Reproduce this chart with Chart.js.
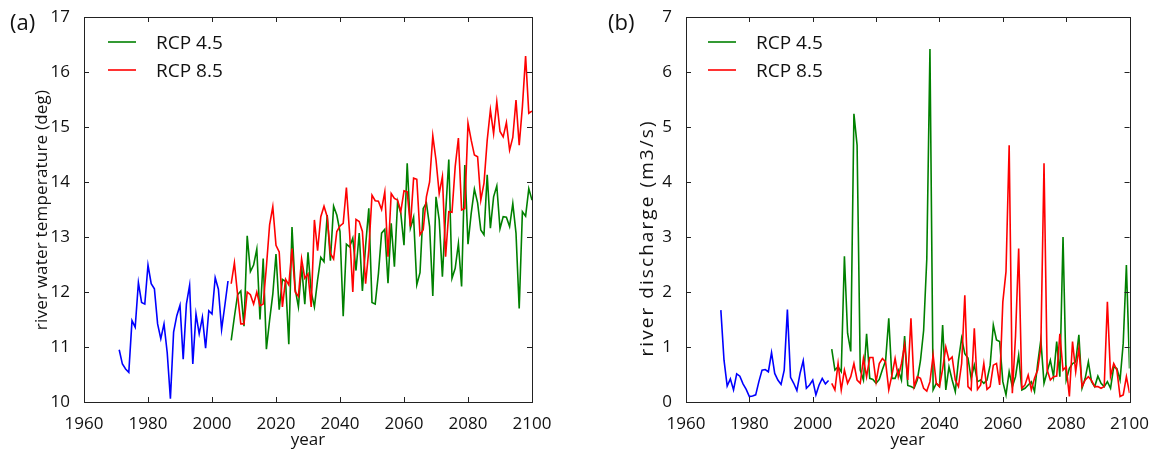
<!DOCTYPE html>
<html>
<head>
<meta charset="utf-8">
<script src="https://cdn.jsdelivr.net/npm/chart.js@4.4.1/dist/chart.umd.min.js"></script>
<style>
  body{margin:0;background:#fff;}
  #wrap{position:relative;width:1153px;height:450px;}
  canvas{position:absolute;top:0;}
  #panelA{left:0;}
  #panelB{left:600px;}
</style>
</head>
<body>
<div id="wrap">
  <canvas id="panelA" width="560" height="450"></canvas>
  <canvas id="panelB" width="553" height="450"></canvas>
</div>
<script>

/* =========================================
   DATA
========================================= */

function yearRange(a,b){
  const out = [];
  for(let y=a; y<=b; y++) out.push(y);
  return out;
}

const histYears = yearRange(1971,2005);
const scenYears = yearRange(2006,2100);

const xTicks = [1960,1980,2000,2020,2040,2060,2080,2100];

// (a) river water temperature (deg)
const tempHist = [
  10.95,10.69,10.60,10.54,11.48,11.36,12.17,11.81,11.78,12.49,
  12.15,12.06,11.42,11.15,11.42,10.90,10.06,11.27,11.57,11.76,
  10.78,11.78,12.12,10.69,11.60,11.24,11.54,10.98,11.66,11.60,
  12.26,12.05,11.32,11.75,12.20
];

const tempRcp45 = [
  11.12,11.55,11.95,12.02,11.38,13.02,12.37,12.49,12.78,11.50,
  12.61,10.96,11.49,11.96,12.69,11.68,12.23,12.19,11.05,13.18,
  12.05,11.73,12.47,11.78,12.72,12.00,11.73,12.22,12.63,12.55,
  13.40,12.57,13.56,13.40,13.10,11.56,12.87,12.82,12.98,12.39,
  13.07,12.02,12.84,13.52,11.81,11.78,12.33,13.07,13.14,12.16,
  13.25,12.46,13.64,13.43,12.85,14.34,13.16,13.36,12.13,12.35,
  13.52,13.62,13.19,11.93,13.73,13.31,12.28,13.43,14.41,12.25,
  12.43,12.88,12.10,14.31,12.87,13.43,13.87,13.62,13.13,13.04,
  14.13,13.16,13.73,13.93,13.15,13.37,13.36,13.19,13.61,13.07,
  11.70,13.46,13.38,13.88,13.67
];

const tempRcp85 = [
  12.15,12.53,11.95,11.42,11.42,12.00,11.95,11.78,12.00,11.75,
  11.78,12.46,13.22,13.55,12.85,12.73,11.73,12.23,12.13,12.79,
  12.00,11.92,12.60,12.25,12.33,11.73,13.31,12.75,13.37,13.56,
  13.37,12.70,12.60,13.10,13.20,13.25,13.90,13.07,12.00,13.32,
  13.28,13.10,12.15,12.76,13.76,13.66,13.65,13.50,13.82,12.64,
  13.79,13.70,13.67,13.46,13.84,13.82,13.19,14.07,14.05,13.04,
  13.13,13.73,14.00,14.84,14.40,13.79,14.10,12.64,13.46,13.45,
  14.28,14.80,13.49,13.52,15.07,14.76,14.49,14.46,13.67,13.98,
  14.76,15.31,14.88,15.46,14.92,14.82,15.08,14.58,14.81,15.49,
  14.67,15.37,16.29,15.25,15.29
];

// (b) river discharge (m3/s)
const flowHist = [
  1.67,0.76,0.29,0.42,0.22,0.51,0.47,0.33,0.23,0.10,
  0.11,0.13,0.37,0.58,0.59,0.55,0.90,0.52,0.40,0.32,
  0.58,1.68,0.45,0.34,0.21,0.52,0.75,0.25,0.31,0.40,
  0.13,0.31,0.43,0.33,0.39
];

const flowRcp45 = [
  0.96,0.58,0.64,0.55,2.65,1.25,0.92,5.24,4.67,0.58,
  0.40,1.24,0.43,0.41,0.34,0.41,0.59,0.75,1.52,0.43,
  0.43,0.58,0.40,1.20,0.30,0.28,0.25,0.40,0.75,1.30,
  2.60,6.42,0.22,0.34,0.28,1.40,0.22,0.64,0.40,0.19,
  0.76,1.16,0.88,0.80,0.43,0.67,0.37,0.40,0.34,0.40,
  0.67,1.40,1.13,1.10,0.37,0.13,0.55,0.28,0.46,0.85,
  0.22,0.25,0.31,0.37,0.19,0.70,1.13,0.34,0.55,0.76,
  0.46,1.10,0.46,3.00,0.40,0.61,0.70,0.73,1.22,0.25,
  0.43,0.73,0.37,0.28,0.47,0.34,0.28,0.37,0.25,0.64,
  0.61,0.40,1.07,2.49,0.61
];

const flowRcp85 = [
  0.34,0.22,0.70,0.22,0.58,0.34,0.46,0.70,0.40,0.34,
  0.79,0.46,0.81,0.81,0.37,0.70,0.79,0.73,0.22,0.49,
  0.79,0.46,0.70,1.04,0.40,1.52,0.28,0.46,0.43,0.25,
  0.20,0.37,0.85,0.34,0.28,0.60,1.00,0.76,0.82,0.40,
  0.28,0.70,1.94,0.28,0.22,1.34,0.23,0.31,0.70,0.23,
  0.28,0.67,0.70,0.31,1.82,2.37,4.67,0.16,1.19,2.79,
  0.25,0.31,0.49,0.22,0.43,0.58,1.00,4.34,0.58,0.40,
  0.46,0.47,1.24,0.58,0.64,0.10,1.10,0.55,0.98,0.28,
  0.40,0.46,0.39,0.28,0.28,0.25,0.28,1.82,0.47,0.70,
  0.58,0.10,0.13,0.46,0.16
];


/* =========================================
   DEFAULTS
========================================= */

Chart.defaults.font.family = "'Open Sans', sans-serif";
Chart.defaults.font.size = 17;
Chart.defaults.color = '#111';

function points(years,vals){
  return vals.map((v,i)=>({x:years[i],y:v}));
}


/* =========================================
   FRAME / TICKS / LEGEND / LABELS
========================================= */

const decor = {

  id:'decor',

  afterDatasetsDraw(chart,args,opts){

    const ctx = chart.ctx;
    const a = chart.chartArea;
    const sx = chart.scales.x;
    const sy = chart.scales.y;

    ctx.save();

    // inward ticks on all four sides
    ctx.strokeStyle = '#222';
    ctx.lineWidth = 1;
    ctx.beginPath();

    sx.ticks.forEach(t=>{
      const px = Math.round(sx.getPixelForValue(t.value))+0.5;
      ctx.moveTo(px,a.bottom);
      ctx.lineTo(px,a.bottom-5);
      ctx.moveTo(px,a.top);
      ctx.lineTo(px,a.top+5);
    });

    sy.ticks.forEach(t=>{
      const py = Math.round(sy.getPixelForValue(t.value))+0.5;
      ctx.moveTo(a.left,py);
      ctx.lineTo(a.left+5,py);
      ctx.moveTo(a.right,py);
      ctx.lineTo(a.right-5,py);
    });

    ctx.stroke();

    ctx.strokeRect(
      Math.round(a.left)+0.5,
      Math.round(a.top)+0.5,
      Math.round(a.right-a.left),
      Math.round(a.bottom-a.top)
    );

    // legend
    ctx.font = "19px 'Open Sans', sans-serif";
    ctx.textAlign = 'left';
    ctx.textBaseline = 'alphabetic';

    let row = 0;
    chart.data.datasets.forEach(ds=>{
      if(!ds.label) return;
      const y = opts.legendY + row*28;
      ctx.strokeStyle = ds.borderColor;
      ctx.lineWidth = 1.6;
      ctx.beginPath();
      ctx.moveTo(opts.legendX,y);
      ctx.lineTo(opts.legendX+28,y);
      ctx.stroke();
      ctx.fillStyle = '#111';
      ctx.fillText(ds.label,opts.legendX+48,y+7);
      row++;
    });

    // panel tag
    ctx.font = "22px 'Open Sans', sans-serif";
    ctx.fillText(opts.tag,opts.tagX,30);

    // y axis title
    ctx.font = opts.yTitleSize+"px 'Open Sans', sans-serif";
    const w = ctx.measureText(opts.yTitle).width;
    if(opts.yTitleLen > w){
      ctx.letterSpacing =
        ((opts.yTitleLen-w)/(opts.yTitle.length-1)).toFixed(2)+'px';
    }
    ctx.translate(opts.yTitleX,opts.yTitleY);
    ctx.rotate(-Math.PI/2);
    ctx.textAlign = 'center';
    ctx.textBaseline = 'middle';
    ctx.fillText(opts.yTitle,0,0);

    ctx.restore();

  }

};


/* =========================================
   PANEL
========================================= */

function createPanel(id,hist,rcp45,rcp85,ymin,ymax,panel){

  return new Chart(document.getElementById(id),{

    type:'line',

    data:{
      datasets:[
        {
          data:points(histYears,hist),
          borderColor:'#0000ff',
          order:2
        },
        {
          label:'RCP 4.5',
          data:points(scenYears,rcp45),
          borderColor:'#008000',
          order:1
        },
        {
          label:'RCP 8.5',
          data:points(scenYears,rcp85),
          borderColor:'#ff0000',
          order:0
        }
      ]
    },

    options:{

      responsive:false,
      animation:false,

      layout:{
        padding:{top:17,right:panel.padRight,left:0,bottom:0}
      },

      elements:{
        line:{borderWidth:1.6,tension:0,fill:false},
        point:{radius:0,hoverRadius:0}
      },

      scales:{

        x:{
          type:'linear',
          min:xTicks[0],
          max:xTicks[xTicks.length-1],
          grid:{display:false},
          border:{display:false},
          afterBuildTicks(s){
            s.ticks = xTicks.map(v=>({value:v}));
          },
          ticks:{
            autoSkip:false,
            maxRotation:0,
            padding:4,
            callback:v=>String(v)
          },
          title:{
            display:true,
            text:'year',
            padding:{top:0,bottom:0}
          },
          afterFit(s){ s.height = 48; }
        },

        y:{
          min:ymin,
          max:ymax,
          grid:{display:false},
          border:{display:false},
          ticks:{stepSize:1,padding:6},
          afterFit(s){ s.width = panel.axisWidth; }
        }

      },

      plugins:{
        legend:{display:false},
        tooltip:{enabled:false},
        decor:{
          tag:panel.tag,
          tagX:panel.tagX,
          legendX:108,
          legendY:42,
          yTitle:panel.yTitle,
          yTitleSize:panel.yTitleSize,
          yTitleX:panel.yTitleX,
          yTitleY:panel.yTitleY,
          yTitleLen:panel.yTitleLen
        }
      }

    },

    plugins:[decor]

  });

}

createPanel('panelA',tempHist,tempRcp45,tempRcp85,10,17,{
  tag:'(a)', tagX:10,
  padRight:28, axisWidth:84,
  yTitle:'river water temperature (deg)',
  yTitleSize:17,
  yTitleX:42, yTitleY:210, yTitleLen:240
});

createPanel('panelB',flowHist,flowRcp45,flowRcp85,0,7,{
  tag:'(b)', tagX:8,
  padRight:21, axisWidth:86,
  yTitle:'river discharge (m3/s)',
  yTitleSize:19,
  yTitleX:48, yTitleY:238, yTitleLen:235
});

</script>
</body>
</html>
